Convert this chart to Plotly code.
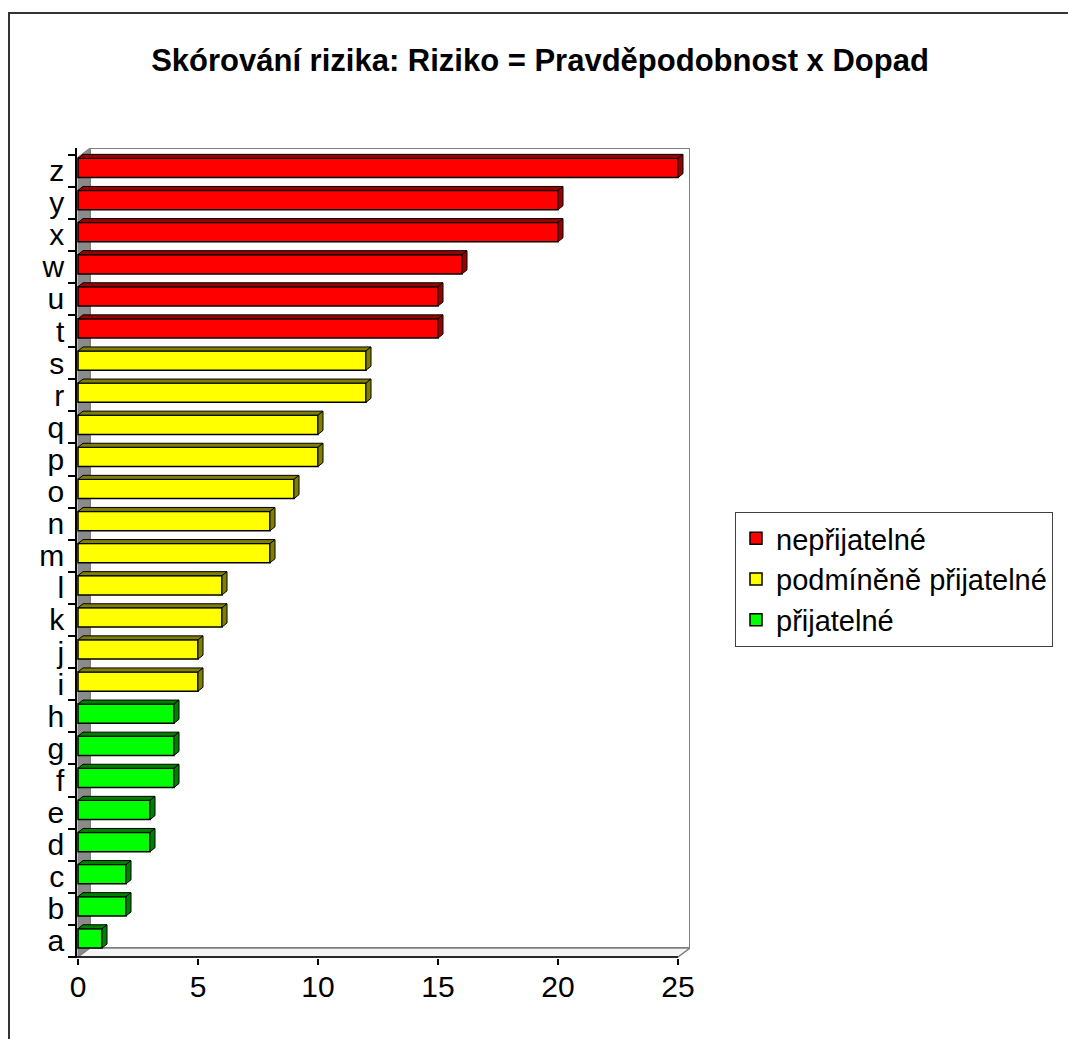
import plotly.graph_objects as go

# ---- data -------------------------------------------------------------
categories = ["a", "b", "c", "d", "e", "f", "g", "h", "i", "j", "k", "l", "m",
              "n", "o", "p", "q", "r", "s", "t", "u", "w", "x", "y", "z"]
scores = [1, 2, 2, 3, 3, 4, 4, 4, 5, 5, 6, 6, 8,
          8, 9, 10, 10, 12, 12, 15, 15, 16, 20, 20, 25]
risk_class = ["přijatelné"] * 8 + ["podmíněně přijatelné"] * 11 + ["nepřijatelné"] * 6
classes = ["nepřijatelné", "podmíněně přijatelné", "přijatelné"]
x_ticks = [0, 5, 10, 15, 20, 25]
title = "Skórování rizika: Riziko = Pravděpodobnost x Dopad"

# ---- styling ----------------------------------------------------------
FONT = "Liberation Sans, Arial, sans-serif"
face = {"nepřijatelné": "#FF0000", "podmíněně přijatelné": "#FFFF00", "přijatelné": "#00FF00"}
shade = {"nepřijatelné": "#990000", "podmíněně přijatelné": "#808000", "přijatelné": "#008000"}

W, H = 1068, 1039
# plot area in pixels
PX_L, PX_R, PX_T, PX_B = 77, 690, 148, 958
X_PER_UNIT = 24.0
Y_PER_CAT = 32.1
x_range = [-(78 - PX_L) / X_PER_UNIT, (PX_R - 78) / X_PER_UNIT]
y_lo = -0.5 - 1 / Y_PER_CAT
y_range = [y_lo, y_lo + (PX_B - PX_T) / Y_PER_CAT]

BAR_W, BAR_OFF = 0.6, -0.22            # bar face thickness / offset on category axis
DX, DY = 5 / X_PER_UNIT, 4 / Y_PER_CAT  # 3-D depth of bars
WX, WY = 12 / X_PER_UNIT, 9 / Y_PER_CAT  # 3-D depth of walls
x_max = x_ticks[-1]

fig = go.Figure()

# bar fronts, one trace per risk class (gives the legend)
for cls in classes:
    idx = [i for i, c in enumerate(risk_class) if c == cls]
    fig.add_trace(go.Bar(
        orientation="h",
        x=[scores[i] for i in idx],
        y=idx,
        width=BAR_W,
        offset=BAR_OFF,
        name=cls,
        marker=dict(color=face[cls], line=dict(color="black", width=1.5)),
        hoverinfo="x+name",
    ))

shapes = []
# walls and floor of the 3-D box
top_back = y_range[1]
shapes.append(dict(type="path", xref="x", yref="y", layer="below",
                   path=f"M {WX},{-0.5 + WY} L {x_max + WX},{-0.5 + WY} L {x_max + WX},{top_back} "
                        f"L {WX},{top_back} Z",
                   fillcolor="white", line=dict(color="#808080", width=2)))
shapes.append(dict(type="path", xref="x", yref="y", layer="below",
                   path=f"M 0,-0.5 L {WX},{-0.5 + WY} L {WX},{top_back} L 0,{top_back - WY} Z",
                   fillcolor="#8a8a8a", line=dict(color="#808080", width=1)))
shapes.append(dict(type="path", xref="x", yref="y", layer="below",
                   path=f"M 0,-0.5 L {WX},{-0.5 + WY} L {x_max + WX},{-0.5 + WY} "
                        f"L {x_max},-0.5 Z",
                   fillcolor="#f4f4f4", line=dict(color="#808080", width=1.5)))
# front edge of the floor = category axis baseline
shapes.append(dict(type="line", xref="x", yref="y", layer="above",
                   x0=x_range[0], x1=x_max, y0=-0.5, y1=-0.5,
                   line=dict(color="black", width=1.5)))

# top and side faces of each bar
for i, (v, cls) in enumerate(zip(scores, risk_class)):
    b = i + BAR_OFF
    t = b + BAR_W
    shapes.append(dict(type="path", xref="x", yref="y", layer="above",
                       path=f"M 0,{t} L {v},{t} L {v + DX},{t + DY} L {DX},{t + DY} Z",
                       fillcolor=shade[cls], line=dict(color="black", width=1)))
    shapes.append(dict(type="path", xref="x", yref="y", layer="above",
                       path=f"M {v},{b} L {v + DX},{b + DY} L {v + DX},{t + DY} L {v},{t} Z",
                       fillcolor=shade[cls], line=dict(color="black", width=1)))

# outer chart frame
shapes.append(dict(type="rect", xref="paper", yref="paper",
                   x0=9 / W, x1=1.05, y0=1 - 13 / H, y1=-0.05,
                   line=dict(color="#333333", width=2), fillcolor="rgba(0,0,0,0)"))

fig.update_layout(
    width=W, height=H, autosize=False,
    margin=dict(l=0, r=0, t=0, b=0, pad=0, autoexpand=False),
    paper_bgcolor="white", plot_bgcolor="white",
    font=dict(family=FONT, color="black"),
    barmode="overlay",
    shapes=shapes,
    title=dict(text=f"<b>{title}</b>", x=540 / W, xanchor="center",
               y=1 - 60 / H, yanchor="middle", yref="paper",
               font=dict(size=31, family=FONT, color="black")),
    xaxis=dict(domain=[PX_L / W, PX_R / W], range=x_range, tickvals=x_ticks,
               showgrid=False, zeroline=False, showline=False, automargin=False,
               ticks="outside", ticklen=6, tickcolor="black", tickwidth=1.5,
               tickfont=dict(size=30, family=FONT), ticklabelstandoff=-4),
    yaxis=dict(domain=[1 - PX_B / H, 1 - PX_T / H], range=y_range,
               tickvals=list(range(len(categories))), ticktext=categories,
               showgrid=False, zeroline=False, showline=True, linecolor="black",
               linewidth=1.5, ticks="", tickfont=dict(size=30, family=FONT),
               ticklabelstandoff=5, automargin=False,
               minor=dict(tickvals=[i - 0.5 for i in range(len(categories) + 1)],
                          ticks="outside", ticklen=7, tickcolor="black", tickwidth=1.5,
                          showgrid=False)),
    legend=dict(x=735 / W, xanchor="left", y=1 - 512 / H, yanchor="top",
                bgcolor="white", bordercolor="#404040", borderwidth=1,
                font=dict(size=29, family=FONT), traceorder="normal",
                itemwidth=30, entrywidth=335, entrywidthmode="pixels"),
    showlegend=True,
)

fig.write_html("out.html", config={"responsive": False})
